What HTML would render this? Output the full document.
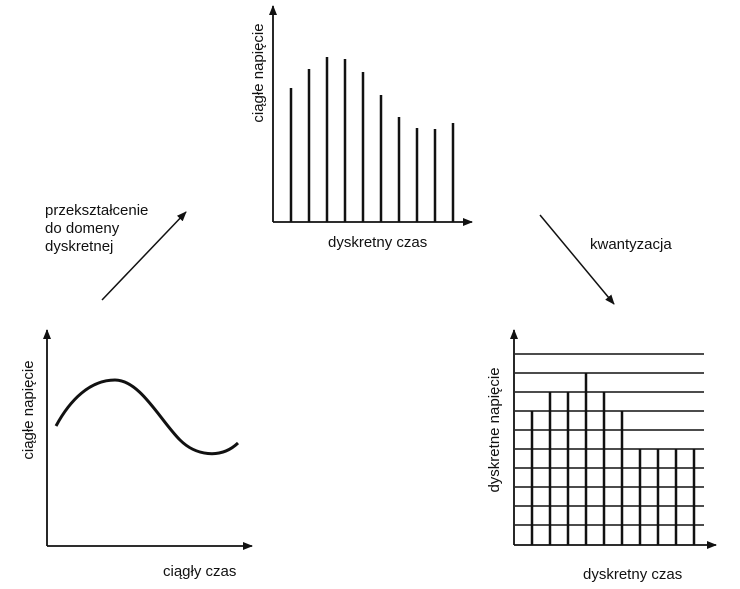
<!DOCTYPE html>
<html><head><meta charset="utf-8"><style>
body{margin:0;background:#fff;}
svg text{font-family:"Liberation Sans",sans-serif;font-size:15px;fill:#111;}
</style></head><body>
<svg width="740" height="584" viewBox="0 0 740 584">
<defs><marker id="a" markerWidth="10" markerHeight="8" refX="9" refY="4" orient="auto" markerUnits="userSpaceOnUse"><path d="M0,0 L10,4 L0,8 Z" fill="#111"/></marker></defs>
<g stroke="#111" fill="none">
<line x1="273" y1="222" x2="273" y2="6" stroke-width="1.8" marker-end="url(#a)"/>
<line x1="273" y1="222" x2="472" y2="222" stroke-width="1.8" marker-end="url(#a)"/>
<g stroke-width="2.5">
<line x1="291" y1="222" x2="291" y2="88"/><line x1="309" y1="222" x2="309" y2="69"/>
<line x1="327" y1="222" x2="327" y2="57"/><line x1="345" y1="222" x2="345" y2="59"/>
<line x1="363" y1="222" x2="363" y2="72"/><line x1="381" y1="222" x2="381" y2="95"/>
<line x1="399" y1="222" x2="399" y2="117"/><line x1="417" y1="222" x2="417" y2="128"/>
<line x1="435" y1="222" x2="435" y2="129"/><line x1="453" y1="222" x2="453" y2="123"/>
</g>
<line x1="102" y1="300" x2="186" y2="212" stroke-width="1.5" marker-end="url(#a)"/>
<line x1="540" y1="215" x2="614" y2="304" stroke-width="1.5" marker-end="url(#a)"/>
<line x1="47" y1="546" x2="47" y2="330" stroke-width="1.8" marker-end="url(#a)"/>
<line x1="47" y1="546" x2="252" y2="546" stroke-width="1.8" marker-end="url(#a)"/>
<path d="M56,426 C70,400 90,380 115,380 C140,380 160,420 180,440 C195,455 220,460 238,443" stroke-width="3"/>
<line x1="514" y1="545" x2="514" y2="330" stroke-width="1.8" marker-end="url(#a)"/>
<line x1="514" y1="545" x2="716" y2="545" stroke-width="1.8" marker-end="url(#a)"/>
<g stroke-width="1.5">
<line x1="515" y1="354" x2="704" y2="354"/><line x1="515" y1="373" x2="704" y2="373"/>
<line x1="515" y1="392" x2="704" y2="392"/><line x1="515" y1="411" x2="704" y2="411"/>
<line x1="515" y1="430" x2="704" y2="430"/><line x1="515" y1="449" x2="704" y2="449"/>
<line x1="515" y1="468" x2="704" y2="468"/><line x1="515" y1="487" x2="704" y2="487"/>
<line x1="515" y1="506" x2="704" y2="506"/><line x1="515" y1="525" x2="704" y2="525"/>
</g>
<g stroke-width="2.5">
<line x1="532" y1="545" x2="532" y2="411"/><line x1="550" y1="545" x2="550" y2="392"/>
<line x1="568" y1="545" x2="568" y2="392"/><line x1="586" y1="545" x2="586" y2="373"/>
<line x1="604" y1="545" x2="604" y2="392"/><line x1="622" y1="545" x2="622" y2="411"/>
<line x1="640" y1="545" x2="640" y2="449"/><line x1="658" y1="545" x2="658" y2="449"/>
<line x1="676" y1="545" x2="676" y2="449"/><line x1="694" y1="545" x2="694" y2="449"/>
</g>
</g>
<text x="328" y="247">dyskretny czas</text>
<text transform="translate(263,73) rotate(-90)" text-anchor="middle">ciągłe napięcie</text>
<text x="45" y="215">przekształcenie</text>
<text x="45" y="233">do domeny</text>
<text x="45" y="251">dyskretnej</text>
<text x="590" y="249">kwantyzacja</text>
<text x="163" y="576">ciągły czas</text>
<text transform="translate(33,410) rotate(-90)" text-anchor="middle">ciągłe napięcie</text>
<text transform="translate(499,430) rotate(-90)" text-anchor="middle">dyskretne napięcie</text>
<text x="583" y="579">dyskretny czas</text>
</svg>
</body></html>
